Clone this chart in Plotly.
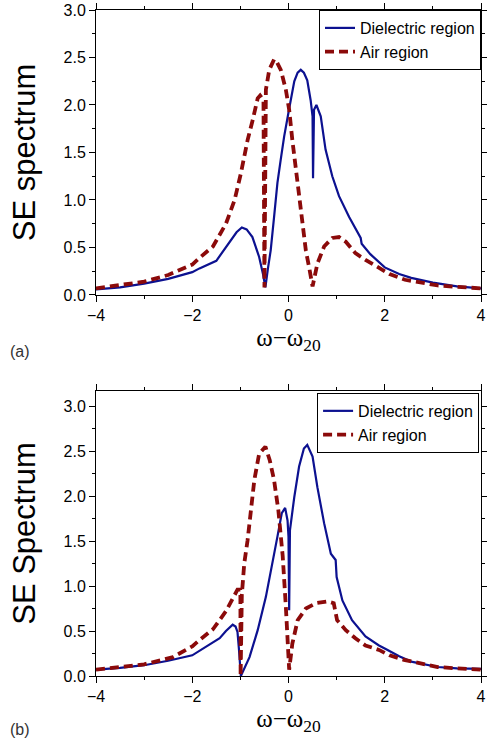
import plotly.graph_objects as go

# ---------------- Panel (a) data ----------------
a_diel_x = [-4.0, -3.5, -3.0, -2.5, -2.0, -1.85, -1.5, -1.35, -1.2, -1.08, -0.97, -0.87, -0.75,
            -0.61, -0.53, -0.48, -0.43, -0.37, -0.3, -0.23, -0.16, -0.09, 0.01, 0.12, 0.19,
            0.255, 0.32, 0.39, 0.46, 0.5, 0.51, 0.53, 0.58, 0.67, 0.77, 0.91, 1.05, 1.26, 1.5,
            1.52, 1.7, 1.88, 2.0, 2.3, 2.55, 3.0, 3.5, 4.0]
a_diel_y = [0.06, 0.08, 0.12, 0.17, 0.24, 0.28, 0.36, 0.47, 0.58, 0.66, 0.71, 0.69, 0.61,
            0.40, 0.22, 0.08, 0.27, 0.47, 0.82, 1.18, 1.43, 1.67, 1.95, 2.25, 2.34,
            2.37, 2.34, 2.26, 2.05, 1.88, 1.23, 1.95, 2.00, 1.88, 1.53, 1.25, 1.04, 0.82, 0.60,
            0.54, 0.43, 0.35, 0.29, 0.22, 0.18, 0.13, 0.09, 0.07]

a_air_x = [-4.0, -3.5, -3.0, -2.5, -2.0, -1.85, -1.57, -1.3, -1.12, -0.99, -0.85, -0.745,
           -0.64, -0.59, -0.52, -0.5, -0.485, -0.47, -0.4, -0.3, -0.26, -0.16, -0.055, 0.014,
           0.08, 0.15, 0.21, 0.255, 0.36, 0.44, 0.5, 0.6, 0.74, 0.91, 1.05, 1.19, 1.39, 1.6,
           1.88, 2.1, 2.42, 3.1, 3.5, 4.0]
a_air_y = [0.07, 0.10, 0.14, 0.21, 0.32, 0.39, 0.51, 0.75, 1.00, 1.28, 1.63, 1.84,
           2.07, 2.10, 2.05, 0.08, 2.05, 2.16, 2.37, 2.48, 2.47, 2.37, 2.16, 1.95,
           1.63, 1.35, 1.10, 0.86, 0.47, 0.26, 0.09, 0.33, 0.51, 0.60, 0.61, 0.56, 0.44, 0.37,
           0.28, 0.22, 0.16, 0.10, 0.085, 0.07]

# ---------------- Panel (b) data ----------------
b_diel_x = [-4.0, -3.5, -3.0, -2.5, -2.0, -1.85, -1.6, -1.43, -1.3, -1.16, -1.1, -1.06, -1.03,
            -0.99, -0.81, -0.64, -0.47, -0.33, -0.23, -0.14, -0.07, -0.02, 0.0, 0.014, 0.03,
            0.12, 0.22, 0.32, 0.39, 0.5, 0.6, 0.74, 0.88, 0.98, 1.0, 1.12, 1.32, 1.6, 1.88,
            2.02, 2.3, 2.55, 3.1, 3.5, 4.0]
b_diel_y = [0.07, 0.09, 0.12, 0.17, 0.23, 0.28, 0.36, 0.42, 0.50, 0.57, 0.55, 0.49, 0.30,
            0.0, 0.21, 0.51, 0.88, 1.25, 1.55, 1.81, 1.87, 1.73, 1.55, 0.73, 1.62,
            1.99, 2.33, 2.53, 2.57, 2.44, 2.10, 1.70, 1.36, 1.29, 1.10, 0.84, 0.62, 0.44, 0.34,
            0.30, 0.22, 0.16, 0.10, 0.085, 0.08]

b_air_x = [-4.0, -3.5, -3.0, -2.4, -2.0, -1.85, -1.57, -1.3, -1.06, -1.0, -0.995, -0.97,
           -0.92, -0.85, -0.78, -0.71, -0.61, -0.48, -0.39, -0.3, -0.21, -0.12, -0.055, -0.02,
           0.014, 0.08, 0.19, 0.36, 0.57, 0.81, 0.94, 1.01, 1.19, 1.39, 1.6, 1.88, 2.1, 2.4,
           3.1, 3.5, 4.0]
b_air_y = [0.07, 0.10, 0.13, 0.21, 0.33, 0.40, 0.52, 0.72, 0.96, 0.96, 0.0, 0.90,
           1.25, 1.51, 1.84, 2.18, 2.47, 2.55, 2.40, 2.18, 1.84, 1.33, 0.77, 0.44,
           0.07, 0.36, 0.62, 0.75, 0.81, 0.83, 0.81, 0.62, 0.51, 0.42, 0.34, 0.29, 0.23, 0.18,
           0.10, 0.085, 0.07]

series_names = ["Dielectric region", "Air region"]
y_titles = ["SE spectrum", "SE Spectrum"]
panel_labels = ["(a)", "(b)"]
x_title = "ω−ω<sub>20</sub>"

BLUE = "#0c1190"
RED = "#8b0a0a"

fig = go.Figure()

fig.add_trace(go.Scatter(x=a_diel_x, y=a_diel_y, mode="lines", name=series_names[0],
                         line=dict(color=BLUE, width=2.2), xaxis="x", yaxis="y", legend="legend"))
fig.add_trace(go.Scatter(x=a_air_x, y=a_air_y, mode="lines", name=series_names[1],
                         line=dict(color=RED, width=3.8, dash="9px,5px"), xaxis="x", yaxis="y",
                         legend="legend"))
fig.add_trace(go.Scatter(x=b_diel_x, y=b_diel_y, mode="lines", name=series_names[0],
                         line=dict(color=BLUE, width=2.2), xaxis="x2", yaxis="y2",
                         legend="legend2"))
fig.add_trace(go.Scatter(x=b_air_x, y=b_air_y, mode="lines", name=series_names[1],
                         line=dict(color=RED, width=3.8, dash="9px,5px"), xaxis="x2", yaxis="y2",
                         legend="legend2"))

tickfont = dict(family="Liberation Sans, Arial, sans-serif", size=16, color="black")

def xax(anchor):
    return dict(range=[-4, 4], dtick=2, tick0=-4, ticks="outside", ticklen=6, tickwidth=1,
                tickcolor="black", showline=True, linecolor="black", linewidth=1,
                showgrid=False, zeroline=False, anchor=anchor, tickfont=tickfont,
                automargin=False, mirror="ticks",
                minor=dict(dtick=1, ticks="outside", ticklen=3, tickcolor="black"),
                title=dict(text=x_title, standoff=3,
                           font=dict(family="Liberation Serif, Times New Roman, serif",
                                     size=25, color="black")))

def yax(anchor, domain, rng, title):
    return dict(range=rng, dtick=0.5, tick0=0, tickformat=".1f", ticks="outside", ticklen=6,
                tickwidth=1, tickcolor="black", showline=True, linecolor="black", linewidth=1,
                showgrid=False, zeroline=False, anchor=anchor, domain=domain, tickfont=tickfont,
                automargin=False, mirror="ticks",
                minor=dict(dtick=0.25, ticks="outside", ticklen=3, tickcolor="black"),
                title=dict(text=title, standoff=18,
                           font=dict(family="Liberation Sans, Arial, sans-serif", size=31,
                                     color="black")))

dom_a = [0.5721, 1.0]
dom_b = [0.0, 0.428]
rng_a = [0, 3.0]
rng_b = [0, 3.17]

layout = dict(
    width=487, height=744,
    margin=dict(l=96, r=6, t=10, b=68, autoexpand=False),
    paper_bgcolor="white", plot_bgcolor="white",
    xaxis=xax("y"), yaxis=yax("x", dom_a, rng_a, y_titles[0]),
    xaxis2=xax("y2"), yaxis2=yax("x2", dom_b, rng_b, y_titles[1]),
    legend=dict(x=1.0, xanchor="right", y=1.0, yanchor="top", bgcolor="white",
                bordercolor="black", borderwidth=1,
                font=dict(family="Liberation Sans, Arial, sans-serif", size=16, color="black"),
                tracegroupgap=0),
    legend2=dict(x=0.995, xanchor="right", y=0.425, yanchor="top", bgcolor="white",
                 bordercolor="black", borderwidth=1,
                 font=dict(family="Liberation Sans, Arial, sans-serif", size=16, color="black"),
                 tracegroupgap=0),
    showlegend=True,
    annotations=[
        dict(text=panel_labels[0], xref="paper", yref="paper", x=-0.228, y=0.4865,
             xanchor="left", yanchor="middle", showarrow=False,
             font=dict(family="Liberation Sans, Arial, sans-serif", size=16, color="#333333")),
        dict(text=panel_labels[1], xref="paper", yref="paper", x=-0.228, y=-0.0796,
             xanchor="left", yanchor="middle", showarrow=False,
             font=dict(family="Liberation Sans, Arial, sans-serif", size=16, color="#333333")),
    ],
)
fig.update_layout(layout)
fig.write_html(
    "out.html",
    config={"displayModeBar": False},
    post_script="document.body.style.margin='0';document.body.style.overflow='hidden';",
)
